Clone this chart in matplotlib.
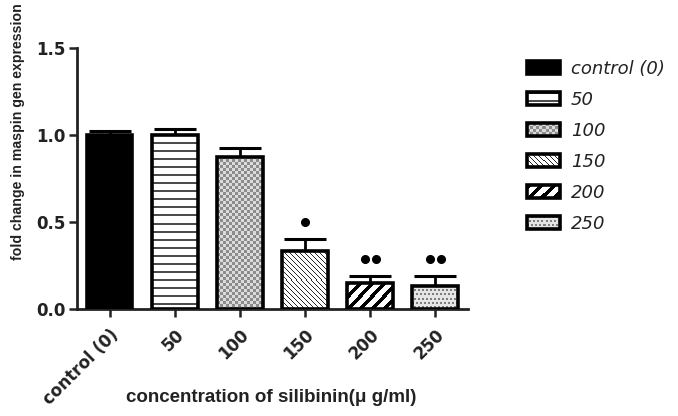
#!/usr/bin/env python3

import numpy as np
import matplotlib
matplotlib.use('Agg')
import matplotlib.pyplot as plt
from matplotlib.patches import Patch, Rectangle
from matplotlib.image import BboxImage
from matplotlib.transforms import Bbox, TransformedBbox
from matplotlib.legend_handler import HandlerBase

plt.rcParams['font.family'] = ['DejaVu Sans']

labels = ['control (0)', '50', '100', '150', '200', '250']
means = [1.0, 1.0, 0.875, 0.335, 0.15, 0.135]
errs = [0.025, 0.035, 0.05, 0.065, 0.04, 0.055]
n_dots = [0, 0, 0, 1, 2, 2]
fills = ['solid', 'hlines', 'checker', 'fine_diag', 'thick_diag', 'dots']


def make_tex(kind, h, w):
    # pixel texture for one bar fill
    ii, jj = np.indices((h, w))
    img = np.ones((h, w, 3))
    def paint(mask, c):
        img[mask] = c
    if kind == 'solid':
        img[:] = 0.0
    elif kind == 'hlines':
        paint((ii % 8) < 2, 0.3)
    elif kind == 'checker':
        img[:] = 0.86
        paint(((ii // 3 + jj // 3) % 2) == 0, 0.55)
    elif kind == 'fine_diag':
        paint(((jj - ii) % 5) < 1, 0.15)
    elif kind == 'thick_diag':
        paint(((jj + ii) % 12) < 5, 0.0)
    elif kind == 'dots':
        img[:] = 0.9
        paint(((ii % 4) < 2) & (((jj + 2 * ((ii // 4) % 2)) % 4) < 2), 0.5)
    return img


class TexHandler(HandlerBase):
    def __init__(self, kind):
        super().__init__()
        self.kind = kind

    def create_artists(self, legend, orig_handle, xdescent, ydescent,
                       width, height, fontsize, trans):
        bb = Bbox.from_bounds(-xdescent, -ydescent, width, height)
        img = BboxImage(TransformedBbox(bb, trans), interpolation='nearest')
        img.set_data(make_tex(self.kind, 13, 33))
        rect = Rectangle((-xdescent, -ydescent), width, height, fill=False,
                         edgecolor='black', linewidth=2.6, transform=trans)
        return [img, rect]


fig = plt.figure(figsize=(6.78, 4.16), dpi=100)
ax = fig.add_axes([0.1136, 0.257, 0.690 - 0.1136, 0.8846 - 0.257])
ax.set_xlim(-0.5, 5.5)
ax.set_ylim(0, 1.5)

x = np.arange(len(labels))
w = 0.7
for i in range(len(labels)):
    bar = ax.bar(x[i], means[i], w, facecolor='white', linewidth=0, zorder=2)[0]
    p0 = ax.transData.transform((x[i] - w / 2, 0))
    p1 = ax.transData.transform((x[i] + w / 2, means[i]))
    pw = max(int(round(p1[0] - p0[0])), 1)
    ph = max(int(round(p1[1] - p0[1])), 1)
    im = ax.imshow(make_tex(fills[i], ph, pw),
                   extent=[x[i] - w / 2, x[i] + w / 2, 0, means[i]],
                   aspect='auto', interpolation='nearest', zorder=2)
    im.set_clip_path(bar)
    ax.bar(x[i], means[i], w, fill=False, edgecolor='black', linewidth=2.6, zorder=3)

ax.errorbar(x, means, yerr=[np.zeros(len(errs)), errs], fmt='none',
            ecolor='black', elinewidth=2, capsize=15, capthick=2.2, zorder=1)

for i in range(len(labels)):
    top = means[i] + errs[i] + 0.1
    if n_dots[i] == 1:
        ax.plot([x[i]], [top], 'o', color='black', markersize=5.5)
    elif n_dots[i] == 2:
        ax.plot([x[i] - 0.085, x[i] + 0.085], [top, top], 'o', color='black', markersize=5.5)

ax.set_xlim(-0.5, 5.5)
ax.set_ylim(0, 1.5)
ax.set_yticks([0.0, 0.5, 1.0, 1.5])
ax.set_yticklabels(['0.0', '0.5', '1.0', '1.5'])
ax.set_xticks(x)
ax.set_xticklabels(labels, rotation=45, ha='right', rotation_mode='anchor')
for t in ax.get_xticklabels() + ax.get_yticklabels():
    t.set_fontweight('bold')
    t.set_fontsize(12)
    t.set_color('#222222')
ax.tick_params(axis='both', direction='out', length=6, width=1.8, colors='#222222', pad=2)
ax.tick_params(axis='x', pad=6)

for s in ['top', 'right']:
    ax.spines[s].set_visible(False)
for s in ['left', 'bottom']:
    ax.spines[s].set_linewidth(2)
    ax.spines[s].set_color('#222222')

fig.text(0.40, 0.045, 'concentration of silibinin(\u03bc g/ml)', ha='center', va='center',
         fontsize=13.5, fontweight='bold', color='#222222', family='Liberation Sans')
fig.text(0.026, 0.684, 'fold change in maspin gen expression', ha='center', va='center',
         rotation=90, fontsize=10.2, fontweight='bold', color='#222222', family='Liberation Sans')

handles = [Patch() for _ in labels]
hmap = {h: TexHandler(k) for h, k in zip(handles, fills)}
leg = fig.legend(handles, labels, loc='upper left', bbox_to_anchor=(527 / 678, 1 - 60 / 416),
                 frameon=False, borderpad=0, borderaxespad=0, handlelength=1.83,
                 handleheight=0.72, handletextpad=0.6, labelspacing=0.72,
                 prop={'style': 'italic', 'size': 13}, handler_map=hmap)
for t in leg.get_texts():
    t.set_color('#222222')

fig.savefig('out.png', dpi=100)
